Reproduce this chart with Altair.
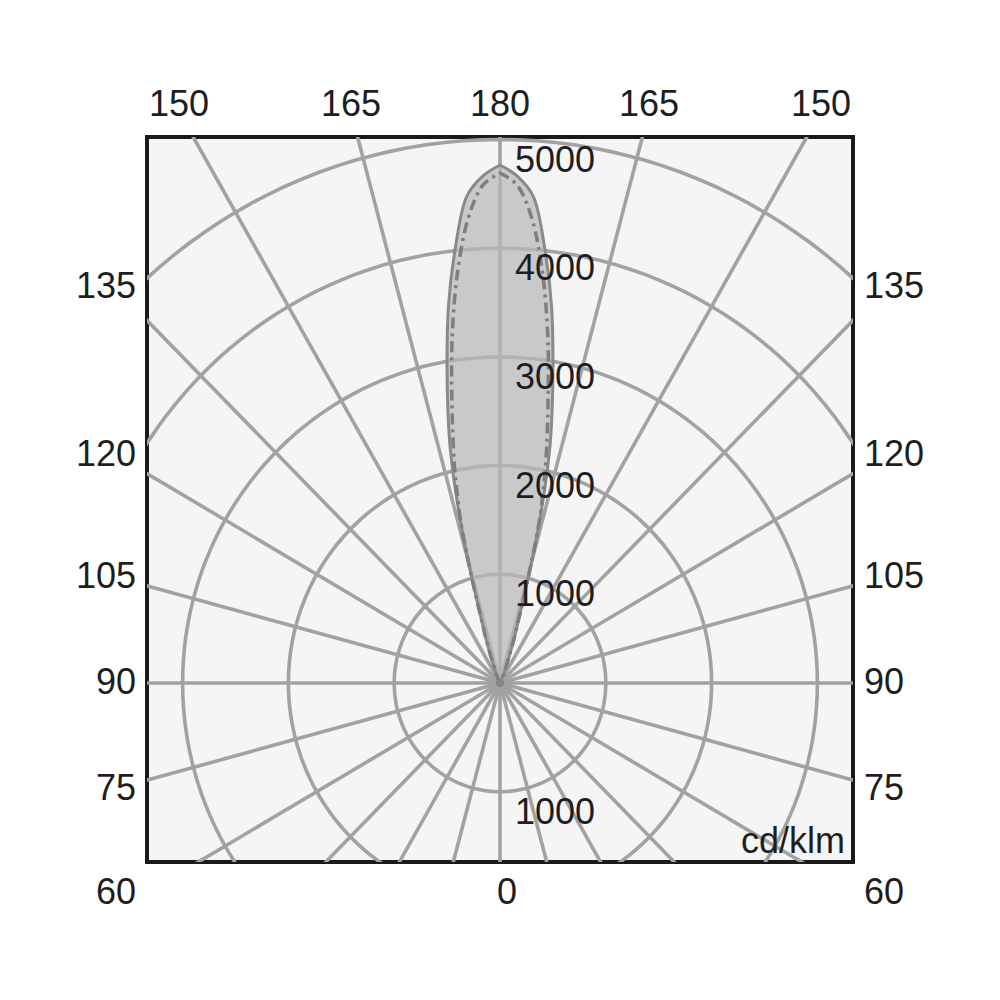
import math
import altair as alt
import pandas as pd

# ---------------- data ----------------
ring_values = [1000, 2000, 3000, 4000, 5000]
ring_label_values = [1000, 2000, 3000, 4000, 5000, -1000]
ring_label_texts = ["1000", "2000", "3000", "4000", "5000", "1000"]
radial_angles = list(range(0, 360, 15))

# gamma = angle from nadir (0 = down, 180 = up), intensities in cd/klm
gamma = [180, 178, 176, 174, 172, 170, 168, 167, 166, 165, 164, 163, 162, 161, 160, 158, 155, 150, 145, 140, 90]
c0_c180 = [4765, 4665, 4490, 4030, 3500, 2880, 2300, 1960, 1565, 1150, 800, 560, 430, 310, 220, 120, 50, 15, 5, 0, 0]
c90_c270 = [4692, 4585, 4290, 3815, 3240, 2615, 2085, 1810, 1540, 1150, 800, 560, 430, 310, 220, 120, 50, 15, 5, 0, 0]

side_angle_labels = [135, 120, 105, 90, 75]
top_angle_labels = [150, 165, 180, 165, 150]
top_angle_sides = [-1, -1, 0, 1, 1]
bottom_angle_labels = [60, 0, 60]
unit_label = "cd/klm"

# ---------------- layout ----------------
PX_X = 0.1058
PX_Y = 0.1087
W, H = 706, 725
XMAX = 353 / PX_X
YMIN = -179 / PX_Y
YMAX = 546 / PX_Y
R_SIDE = 3640
R_TOP = 5256
FONT = "Liberation Sans"
FS = 36
TXT = "#1e1e1e"
GRID = "#a2a2a2"

xs = alt.Scale(domain=[-XMAX, XMAX], nice=False, zero=False)
ys = alt.Scale(domain=[YMIN, YMAX], nice=False, zero=False)


def X(f):
    return alt.X(f, type="quantitative", scale=xs, axis=None)


def Y(f):
    return alt.Y(f, type="quantitative", scale=ys, axis=None)


# circles
circ = pd.DataFrame([{"r": r, "t": t} for r in ring_values for t in range(0, 361, 2)])
circles = alt.Chart(circ).transform_calculate(
    cx="datum.r*sin(datum.t*PI/180)", cy="datum.r*cos(datum.t*PI/180)"
).mark_line(clip=True, color=GRID, strokeWidth=3.6).encode(
    x=X("cx"), y=Y("cy"), detail="r:N", order="t:Q"
)

# radial lines
rad = pd.DataFrame({"a": radial_angles})
radials = alt.Chart(rad).transform_calculate(
    x0="0", y0="0",
    x1="9000*sin(datum.a*PI/180)", y1="-9000*cos(datum.a*PI/180)"
).mark_rule(clip=True, color=GRID, strokeWidth=3.6).encode(
    x=X("x0"), y=Y("y0"), x2="x1:Q", y2="y1:Q"
)

# beam fill
beam = pd.DataFrame({"g": gamma, "I": c0_c180})
fill = alt.Chart(beam).transform_calculate(
    xr="datum.I*sin((180-datum.g)*PI/180)",
    xl="-datum.I*sin((180-datum.g)*PI/180)",
    yy="datum.I*cos((180-datum.g)*PI/180)"
).mark_area(orient="horizontal", interpolate="catmull-rom", color="#b8b8ba", fillOpacity=0.72).encode(
    y=Y("yy"), x=X("xr"), x2="xl:Q"
)


def outline(vals, **kw):
    rows = []
    for s in (-1, 1):
        for g, v in zip(gamma, vals):
            rows.append({"side": s, "g": g, "I": v})
    df = pd.DataFrame(rows)
    return alt.Chart(df).transform_calculate(
        px="datum.side*datum.I*sin((180-datum.g)*PI/180)",
        py="datum.I*cos((180-datum.g)*PI/180)",
        o="datum.side*(180-datum.g)"
    ).mark_line(interpolate="catmull-rom", **kw).encode(x=X("px"), y=Y("py"), order="o:Q")


solid = outline(c0_c180, color="#8a8a8a", strokeWidth=3)
dashdot = outline(c90_c270, color="#7e7e7e", strokeWidth=3.5, strokeDash=[11, 5, 3, 5])

center = alt.Chart(pd.DataFrame({"x": [0], "y": [0]})).mark_point(
    filled=True, size=70, color="#858585", opacity=1
).encode(x=X("x"), y=Y("y"))

# ring labels
rl = pd.DataFrame({"v": ring_label_values, "t": ring_label_texts})
ring_text = alt.Chart(rl).transform_calculate(x0="0").mark_text(
    align="left", baseline="middle", dx=15, dy=21, fontSize=FS, font=FONT, color=TXT
).encode(x=X("x0"), y=Y("v"), text="t:N")

# side angle labels
sl = pd.DataFrame({"a": side_angle_labels})
sl["t"] = sl["a"].astype(str)
left_text = alt.Chart(sl).transform_calculate(
    lx=str(-XMAX), ly=f"{R_SIDE}*tan((datum.a-90)*PI/180)"
).mark_text(align="right", baseline="middle", dx=-11, fontSize=FS, font=FONT, color=TXT).encode(
    x=X("lx"), y=Y("ly"), text="t:N")
right_text = alt.Chart(sl).transform_calculate(
    lx=str(XMAX), ly=f"{R_SIDE}*tan((datum.a-90)*PI/180)"
).mark_text(align="left", baseline="middle", dx=11, fontSize=FS, font=FONT, color=TXT).encode(
    x=X("lx"), y=Y("ly"), text="t:N")

# top angle labels
tl = pd.DataFrame({"a": top_angle_labels, "s": top_angle_sides})
tl["t"] = tl["a"].astype(str)
top_text = alt.Chart(tl).transform_calculate(
    lx=f"datum.s*{R_TOP}*tan((180-datum.a)*PI/180)", ly=str(YMAX)
).mark_text(align="center", baseline="middle", dy=-32, fontSize=FS, font=FONT, color=TXT).encode(
    x=X("lx"), y=Y("ly"), text="t:N")

# bottom angle labels
bl = pd.DataFrame({"t": [str(v) for v in bottom_angle_labels], "s": [-1, 0, 1]})
b_left = alt.Chart(bl).transform_filter("datum.s < 0").transform_calculate(
    lx=str(-XMAX), ly=str(YMIN)
).mark_text(align="right", baseline="middle", dx=-11, dy=31, fontSize=FS, font=FONT, color=TXT).encode(
    x=X("lx"), y=Y("ly"), text="t:N")
b_right = alt.Chart(bl).transform_filter("datum.s > 0").transform_calculate(
    lx=str(XMAX), ly=str(YMIN)
).mark_text(align="left", baseline="middle", dx=11, dy=31, fontSize=FS, font=FONT, color=TXT).encode(
    x=X("lx"), y=Y("ly"), text="t:N")
b_mid = alt.Chart(bl).transform_filter("datum.s == 0").transform_calculate(
    lx="0", ly=str(YMIN)
).mark_text(align="center", baseline="middle", dx=7, dy=31, fontSize=FS, font=FONT, color=TXT).encode(
    x=X("lx"), y=Y("ly"), text="t:N")

unit = alt.Chart(pd.DataFrame({"t": [unit_label]})).transform_calculate(
    lx=str(XMAX), ly=str(YMIN)
).mark_text(align="right", baseline="middle", dx=-8, dy=-20, fontSize=FS, font=FONT, color=TXT).encode(
    x=X("lx"), y=Y("ly"), text="t:N")

chart = alt.layer(
    circles, radials, fill, solid, dashdot, center,
    ring_text, left_text, right_text, top_text, b_left, b_right, b_mid, unit
).properties(
    width=W, height=H, autosize="none",
    padding={"left": 139, "top": 129, "right": 139, "bottom": 130},
    background="white"
).configure_view(stroke="#1a1a1a", strokeWidth=4, fill="#f5f5f6")

chart.save("out.html", embed_options={"renderer": "svg", "actions": False})
